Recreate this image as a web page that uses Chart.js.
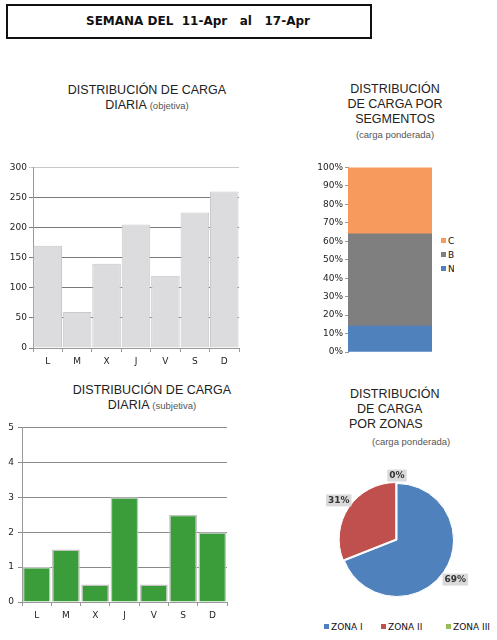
<!DOCTYPE html>
<html>
<head>
<meta charset="utf-8">
<script src="https://cdn.jsdelivr.net/npm/chart.js@4"></script>
<style>
  body { margin:0; background:#fff; width:497px; height:640px; position:relative; overflow:hidden; font-family:"Liberation Sans", Arial, sans-serif; }
  canvas { position:absolute; }
  .hdr { position:absolute; left:6px; top:4px; width:362px; height:31px; border:2px solid #111; }
  .hdr span { position:absolute; left:78px; top:8px; font:bold 12px "DejaVu Sans", sans-serif; white-space:pre; color:#111; }
  .t { position:absolute; font-size:12.5px; color:#222; white-space:pre; line-height:15px; }
  .t small { font-size:9.5px; color:#555; }
  .c { text-align:center; }
  .lg { position:absolute; font:9px "DejaVu Sans", sans-serif; color:#111; white-space:pre; }
  .lg i { display:inline-block; width:5px; height:5px; margin-right:2px; vertical-align:1px; }
</style>
</head>
<body>
<div class="hdr"><span>SEMANA DEL  11-Apr   al   17-Apr</span></div>

<div class="t c" style="left:47px;top:83px;width:200px;">DISTRIBUCIÓN DE CARGA<br>DIARIA <small>(objetiva)</small></div>
<div class="t c" style="left:315px;top:82px;width:160px;">DISTRIBUCIÓN<br>DE CARGA POR<br>SEGMENTOS<br><small>(carga ponderada)</small></div>
<div class="t c" style="left:52px;top:383px;width:200px;">DISTRIBUCIÓN DE CARGA<br>DIARIA <small>(subjetiva)</small></div>
<div class="t" style="left:350px;top:387px;">DISTRIBUCIÓN</div>
<div class="t" style="left:357px;top:402px;">DE CARGA</div>
<div class="t" style="left:349px;top:417px;">POR ZONAS</div>
<div class="t" style="left:372px;top:434px;"><small>(carga ponderada)</small></div>

<canvas id="objetiva" width="246" height="215" style="left:0;top:160px"></canvas>
<canvas id="segmentos" width="135" height="200" style="left:300px;top:160px"></canvas>
<canvas id="subjetiva" width="235" height="210" style="left:0;top:418px"></canvas>
<canvas id="zonas" width="160" height="160" style="left:317px;top:460px"></canvas>

<div id="legSeg" class="lg" style="left:441px;top:234px;width:13px;overflow:hidden;line-height:14px;"></div>
<div id="legZon" class="lg" style="left:324px;top:622px;width:173px;"></div>

<script>
const dias = ['L', 'M', 'X', 'J', 'V', 'S', 'D']
const cargaObjetiva = [170, 60, 140, 205, 120, 225, 260]
const cargaSubjetiva = [1, 1.5, 0.5, 3, 0.5, 2.5, 2]
const segmentos = ['N', 'B', 'C']
const segmentoPct = [14, 50, 36]
const segmentoColores = ['#4f81bd', '#7f7f7f', '#f79a5e']
const zonas = ['ZONA I', 'ZONA II', 'ZONA III']
const zonaPct = [69, 31, 0]
const zonaColores = ['#4f81bd', '#c0504d', '#9bbb59']

const tickFont = { family: 'DejaVu Sans', size: 9 }
const fixW = w => scale => { scale.width = w }
const fixH = h => scale => { scale.height = h }

// diaria (objetiva)
new Chart(document.getElementById('objetiva'), {
  type: 'bar',
  data: {
    labels: dias,
    datasets: [{
      data: cargaObjetiva,
      backgroundColor: '#dcdcdf',
      borderColor: '#c9c9cc',
      borderWidth: 1,
      barPercentage: 0.97,
      categoryPercentage: 1
    }]
  },
  options: {
    responsive: false, animation: false,
    layout: { padding: { top: 7, right: 7, bottom: 0, left: 0 } },
    plugins: { legend: { display: false }, tooltip: { enabled: false } },
    scales: {
      x: {
        afterFit: fixH(27),
        grid: { drawOnChartArea: false, tickLength: 4, color: '#999' },
        border: { color: '#999' },
        ticks: { font: tickFont, color: '#222', padding: 4 }
      },
      y: {
        min: 0, max: 300,
        afterFit: fixW(33),
        ticks: { stepSize: 50, font: tickFont, color: '#222', padding: 2 },
        grid: { tickLength: 4, color: c => c.tick.value === 300 ? '#c8c8c8' : '#7a7a7a' },
        border: { color: '#999' }
      }
    }
  }
})

// segmentos (apilado)
new Chart(document.getElementById('segmentos'), {
  type: 'bar',
  data: {
    labels: [''],
    datasets: segmentos.map((s, i) => ({
      label: s,
      data: [segmentoPct[i]],
      backgroundColor: segmentoColores[i],
      borderWidth: 0,
      barPercentage: 1,
      categoryPercentage: 1
    }))
  },
  options: {
    responsive: false, animation: false,
    layout: { padding: { top: 7, right: 3, bottom: 8, left: 0 } },
    plugins: { legend: { display: false }, tooltip: { enabled: false } },
    scales: {
      x: { stacked: true, display: false },
      y: {
        stacked: true, min: 0, max: 100,
        afterFit: fixW(48),
        ticks: { stepSize: 10, font: tickFont, color: '#222', padding: 2, callback: v => v + '%' },
        grid: { drawOnChartArea: false, tickLength: 3, color: '#999' },
        border: { color: '#999' }
      }
    }
  }
})

// diaria (subjetiva)
new Chart(document.getElementById('subjetiva'), {
  type: 'bar',
  data: {
    labels: dias,
    datasets: [{
      data: cargaSubjetiva,
      backgroundColor: '#3a9d3a',
      borderColor: '#c4c4c4',
      borderWidth: 1.5,
      barPercentage: 0.95,
      categoryPercentage: 1
    }]
  },
  options: {
    responsive: false, animation: false,
    layout: { padding: { top: 8, right: 8, bottom: 0, left: 0 } },
    plugins: { legend: { display: false }, tooltip: { enabled: false } },
    scales: {
      x: {
        afterFit: fixH(26),
        grid: { drawOnChartArea: false, tickLength: 4, color: '#999' },
        border: { color: '#999' },
        ticks: { font: tickFont, color: '#222', padding: 4 }
      },
      y: {
        min: 0, max: 5,
        afterFit: fixW(22),
        ticks: { stepSize: 1, font: tickFont, color: '#222', padding: 4 },
        grid: { tickLength: 4, color: '#8a8a8a' },
        border: { color: '#999' }
      }
    }
  }
})

// etiquetas de porcentaje fuera del pastel
const pieLabels = {
  id: 'pieLabels',
  afterDatasetsDraw(chart) {
    const ctx = chart.ctx
    const meta = chart.getDatasetMeta(0)
    ctx.save()
    ctx.font = 'bold 9px "DejaVu Sans"'
    ctx.textAlign = 'center'
    ctx.textBaseline = 'middle'
    meta.data.forEach((arc, i) => {
      const a = (arc.startAngle + arc.endAngle) / 2
      const d = arc.outerRadius + 14
      const x = arc.x + Math.cos(a) * d
      const y = arc.y + Math.sin(a) * d + (i === 2 ? 6 : 0)
      const txt = zonaPct[i] + '%'
      const w = ctx.measureText(txt).width + 4
      ctx.fillStyle = '#dadada'
      ctx.fillRect(x - w / 2, y - 6, w, 12)
      ctx.fillStyle = '#333'
      ctx.fillText(txt, x, y + 0.5)
    })
    ctx.restore()
  }
}

new Chart(document.getElementById('zonas'), {
  type: 'pie',
  data: {
    labels: zonas,
    datasets: [{
      data: zonaPct,
      backgroundColor: zonaColores,
      borderColor: '#fff',
      borderWidth: 1,
      offset: [0, 6, 0]
    }]
  },
  options: {
    responsive: false, animation: false,
    layout: { padding: 20 },
    plugins: { legend: { display: false }, tooltip: { enabled: false } }
  },
  plugins: [pieLabels]
})

// leyendas
const legSeg = document.getElementById('legSeg')
segmentos.slice().reverse().forEach((s, k) => {
  const i = segmentos.length - 1 - k
  legSeg.innerHTML += '<div><i style="background:' + segmentoColores[i] + '"></i>' + s + '</div>'
})
const legZon = document.getElementById('legZon')
const gaps = [57, 65, 0]
zonas.forEach((z, i) => {
  legZon.innerHTML += '<span style="display:inline-block;width:' + (gaps[i] || 50) + 'px"><i style="background:' + zonaColores[i] + '"></i>' + z + '</span>'
})
</script>
</body>
</html>
